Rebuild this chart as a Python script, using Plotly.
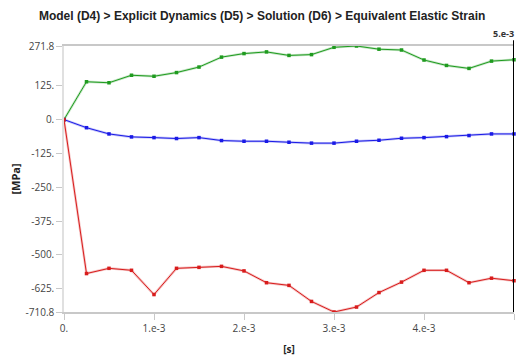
import plotly.graph_objects as go

time_s = [i * 2.5e-4 for i in range(21)]
green_vals = [0, 139.7, 136, 163.8, 160, 173.6, 194, 230.7, 243.8, 250, 237, 240,
              267, 271.8, 260, 257, 220, 200, 189, 216, 221]
blue_vals = [0, -30, -53, -64, -66.6, -70, -66.6, -77.5, -80, -80, -83.7, -87,
             -87, -80, -76.4, -69, -66.6, -63, -59, -53, -53]
red_vals = [0, -568.8, -549.5, -556.8, -646.3, -549.5, -545.9, -542.2, -559, -602.6,
            -612.5, -671.8, -710.8, -692.5, -639, -600.4, -556.8, -556.8, -602.6,
            -585.9, -595.3]
y_ticks = [271.8, 125, 0, -125, -250, -375, -500, -625, -710.8]
y_tick_text = ["271.8", "125.", "0.", "-125.", "-250.", "-375.", "-500.", "-625.", "-710.8"]
x_ticks = [0, 1e-3, 2e-3, 3e-3, 4e-3, 5e-3]
x_tick_text = ["0.", "1.e-3", "2.e-3", "3.e-3", "4.e-3", "5.e-3"]

fig = go.Figure()
for vals, col, halo in [(green_vals, "#1f9b1f", "rgba(31,155,31,0.25)"),
                        (blue_vals, "#1a1ae6", "rgba(26,26,230,0.25)"),
                        (red_vals, "#d81c1c", "rgba(216,28,28,0.25)")]:
    fig.add_trace(go.Scatter(x=time_s, y=vals, mode="lines",
                             line=dict(color=halo, width=2.5), hoverinfo="skip",
                             showlegend=False, cliponaxis=False))
    fig.add_trace(go.Scatter(x=time_s, y=vals, mode="lines+markers",
                             line=dict(color=col, width=1),
                             marker=dict(symbol="square", size=3.5, color=col),
                             showlegend=False, cliponaxis=False))

fig.add_shape(type="line", xref="x", yref="paper", x0=5e-3, x1=5e-3, y0=0, y1=1.022,
              line=dict(color="black", width=2))
fig.add_annotation(x=5e-3, y=1.022, xref="x", yref="paper", text="<b>5.e-3</b>",
                   showarrow=False, xanchor="right", yanchor="bottom", xshift=2, yshift=-2,
                   font=dict(family="Open Sans", size=9, color="#333"))

fig.update_layout(
    width=517, height=357,
    margin=dict(l=64, r=3, t=46, b=41),
    paper_bgcolor="white", plot_bgcolor="white",
    title=dict(text="<b>Model (D4) > Explicit Dynamics (D5) > Solution (D6) > Equivalent Elastic Strain</b>",
               x=0.507, xanchor="center", y=0.955, yanchor="middle",
               font=dict(family="Liberation Sans", size=12, color="#222")),
    font=dict(family="Open Sans", size=10, color="#333"),
)
fig.update_xaxes(range=[0, 5e-3], tickvals=x_ticks, ticktext=x_tick_text,
                 showgrid=False, zeroline=False, showline=True, linecolor="#c8c8c8",
                 linewidth=1.5, mirror=True, ticks="outside", ticklen=6, tickcolor="#c8c8c8",
                 title=dict(text="<b>[s]</b>", font=dict(size=10, color="#222"), standoff=12),
                 tickfont=dict(size=10, color="#444"))
fig.update_yaxes(range=[-710.8, 271.8], tickvals=y_ticks, ticktext=y_tick_text,
                 showgrid=False, zeroline=False, showline=True, linecolor="#e0e0e0",
                 linewidth=1.5, ticks="outside", ticklen=6, tickcolor="#c8c8c8",
                 title=dict(text="<b>[MPa]</b>", font=dict(size=11, color="#222"), standoff=3),
                 tickfont=dict(size=10, color="#444"))

fig.write_html("out.html", config={"displayModeBar": False},
               post_script="document.body.style.margin='0';document.body.style.overflow='hidden';")
